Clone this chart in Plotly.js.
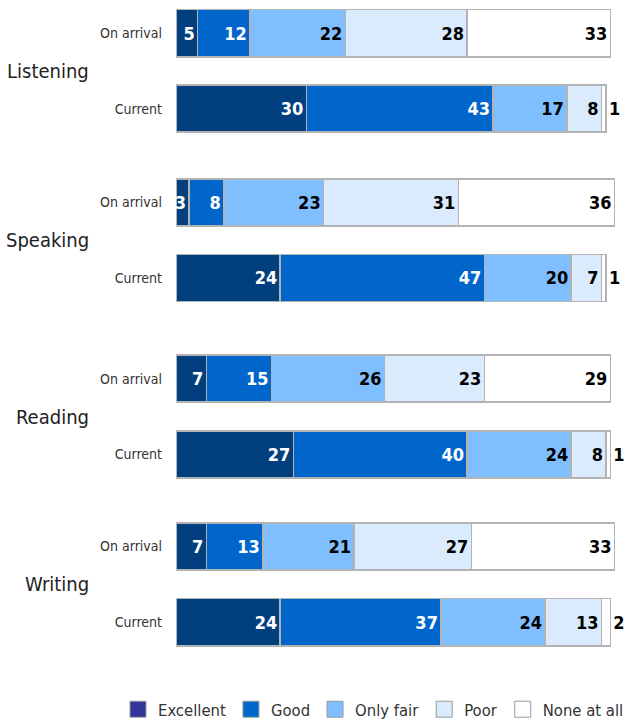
<!DOCTYPE html>
<html>
<head>
<meta charset="utf-8">
<script src="https://cdn.plot.ly/plotly-3.0.1.min.js"></script>
<style>html,body{margin:0;padding:0;background:#fff;}#chart{width:637px;height:727px;}</style>
</head>
<body>
<div id="chart"></div>
<script>
// ---- data ----
const skills = ['Listening', 'Speaking', 'Reading', 'Writing'];
const stages = ['On arrival', 'Current'];
const seriesNames = ['Excellent', 'Good', 'Only fair', 'Poor', 'None at all'];
const excellent = [5, 30, 3, 24, 7, 27, 7, 24];
const good      = [12, 43, 8, 47, 15, 40, 13, 37];
const onlyFair  = [22, 17, 23, 20, 26, 24, 21, 24];
const poor      = [28, 8, 31, 7, 23, 8, 27, 13];
const noneAtAll = [33, 1, 36, 1, 29, 1, 33, 2];

// ---- layout constants ----
const FONT = '"DejaVu Sans Condensed", "Liberation Sans Narrow", sans-serif';
const rowY = [33.5, 109.5, 204, 280, 381.5, 458, 550.5, 627];
const barColors = ['#023f7f', '#0066cc', '#80bfff', '#d9ebfc', '#ffffff'];
const legendColors = ['#333399', '#0066cc', '#80bfff', '#d9ebfc', '#ffffff'];
const textColors = ['#ffffff', '#ffffff', '#000000', '#000000', '#000000'];
const series = [excellent, good, onlyFair, poor, noneAtAll];

const rowLabels = [];
skills.forEach(() => stages.forEach(s => rowLabels.push(s)));

const LABEL = {family: FONT, size: 18, weight: 700};

const traces = series.map((vals, i) => ({
  type: 'bar',
  orientation: 'h',
  name: seriesNames[i],
  x: vals,
  y: rowY,
  width: 47.5,
  marker: {color: barColors[i], line: {color: '#b3b3b3', width: 1.5}},
  text: vals.map(String),
  textposition: i === series.length - 1 ? 'auto' : 'inside',
  insidetextanchor: 'end',
  constraintext: 'none',
  textangle: 0,
  cliponaxis: false,
  textfont: Object.assign({color: textColors[i]}, LABEL),
  outsidetextfont: Object.assign({color: '#000000'}, LABEL),
  insidetextfont: Object.assign({color: textColors[i]}, LABEL),
  showlegend: false,
  hoverinfo: 'skip'
}));

const legendTraces = seriesNames.map((n, i) => ({
  type: 'scatter',
  mode: 'markers',
  name: n,
  x: [null],
  y: [null],
  marker: {symbol: 'square', size: 20, color: legendColors[i], line: {color: '#999999', width: 1}},
  showlegend: true,
  hoverinfo: 'skip'
}));

const H = 660;
const annotations = skills.map((s, k) => ({
  text: s,
  xref: 'paper', yref: 'y',
  x: (91 - 176) / 456,
  y: (rowY[2 * k] + rowY[2 * k + 1]) / 2,
  xanchor: 'right', yanchor: 'middle',
  showarrow: false,
  font: {family: FONT, size: 20, color: '#222222'}
}));

const layout = {
  width: 637, height: 727,
  margin: {l: 176, r: 5, t: 0, b: 727 - H},
  paper_bgcolor: '#ffffff',
  plot_bgcolor: '#ffffff',
  barmode: 'stack',
  bargap: 0,
  xaxis: {range: [0, 105], visible: false, fixedrange: true},
  yaxis: {
    range: [H, 0],
    tickvals: rowY,
    ticktext: rowLabels,
    showgrid: false, zeroline: false, showline: false,
    ticks: '', ticklabelstandoff: 13,
    tickfont: {family: FONT, size: 14, color: '#333333'},
    fixedrange: true
  },
  showlegend: true,
  legend: {
    orientation: 'h',
    x: (118 - 176) / 456, xanchor: 'left',
    y: (H - 715) / H, yanchor: 'middle',
    font: {family: FONT, size: 16.5, color: '#333333'},
    itemsizing: 'trace',
    traceorder: 'normal',
    bgcolor: 'rgba(0,0,0,0)'
  },
  annotations: annotations,
  hovermode: false
};

Plotly.newPlot('chart', traces.concat(legendTraces), layout, {staticPlot: true, displayModeBar: false});
</script>
</body>
</html>
